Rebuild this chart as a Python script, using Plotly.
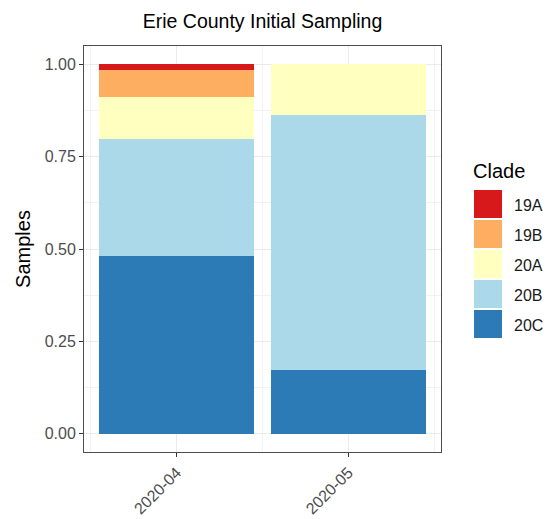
import plotly.graph_objects as go

# data (share of samples per month)
months = ["2020-04", "2020-05"]
clades = ["19A", "19B", "20A", "20B", "20C"]
clade_colors = ["#D7191C", "#FDAE61", "#FFFFBF", "#ABD9E9", "#2C7BB6"]
share = {
    "20C": [0.481, 0.172],
    "20B": [0.318, 0.690],
    "20A": [0.112, 0.138],
    "19B": [0.075, 0.0],
    "19A": [0.014, 0.0],
}

# page body has an 8px margin, so draw the figure 8px smaller and shift everything
OFF = 8
W, H = 554 - OFF, 519 - OFF
# panel box in (reference) pixels
PL, PR, PT, PB = 84, 441, 46, 452

fig = go.Figure()
# stack from bottom: 20C first
for name in reversed(clades):
    col = clade_colors[clades.index(name)]
    fig.add_trace(go.Bar(
        x=months, y=share[name], name=name,
        marker=dict(color=col, line=dict(width=0)),
        width=0.9, showlegend=False,
    ))

# ggplot style legend drawn by hand (big square keys)
def px_x(p):
    return (p - PL) / (PR - PL)

def px_y(p):
    return (PB - p) / (PB - PT)

shapes = []
annots = []
for i, (name, col) in enumerate(zip(clades, clade_colors)):
    top = 190 + 30 * i
    shapes.append(dict(
        type="rect", xref="paper", yref="paper",
        x0=px_x(474), x1=px_x(502), y0=px_y(top + 28), y1=px_y(top),
        fillcolor=col, line=dict(width=0), layer="above",
    ))
    annots.append(dict(
        text=name, xref="paper", yref="paper",
        x=px_x(512), y=px_y(top + 15), xanchor="left", yanchor="middle",
        showarrow=False, font=dict(size=16, color="#1a1a1a"),
    ))
annots.append(dict(
    text="Clade", xref="paper", yref="paper",
    x=px_x(471), y=px_y(171), xanchor="left", yanchor="middle",
    showarrow=False, font=dict(size=20, color="black"),
))

fig.update_layout(
    barmode="stack",
    bargap=0.1,
    width=W, height=H,
    margin=dict(l=PL - OFF, r=554 - PR, t=PT - OFF, b=519 - PB, pad=0),
    paper_bgcolor="white",
    plot_bgcolor="white",
    font=dict(family="Liberation Sans, Arial, sans-serif"),
    title=dict(
        text="Erie County Initial Sampling",
        x=0.5, xref="paper", xanchor="center",
        y=1 - (21 - OFF) / H, yref="container", yanchor="middle",
        font=dict(size=19.5, color="black"),
    ),
    shapes=shapes,
    annotations=annots,
    showlegend=False,
)

fig.update_xaxes(
    type="category",
    range=[-0.54, 1.54],
    showline=True, mirror=True, linecolor="#4d4d4d", linewidth=1,
    ticks="outside", ticklen=4, tickcolor="#333333", tickwidth=1,
    tickangle=-45, tickfont=dict(size=16, color="#4d4d4d"),
    showgrid=True, gridcolor="#EBEBEB", gridwidth=1.2,
    minor=dict(showgrid=True, gridcolor="#F2F2F2", gridwidth=0.6,
               tickvals=[-0.5, 0.5, 1.5]),
    zeroline=False, automargin=False,
)
fig.update_yaxes(
    range=[-0.05, 1.05],
    tickvals=[0, 0.25, 0.5, 0.75, 1.0],
    ticktext=["0.00", "0.25", "0.50", "0.75", "1.00"],
    showline=True, mirror=True, linecolor="#4d4d4d", linewidth=1,
    ticks="outside", ticklen=4, tickcolor="#333333", tickwidth=1,
    tickfont=dict(size=16, color="#4d4d4d"),
    showgrid=True, gridcolor="#EBEBEB", gridwidth=1.2,
    minor=dict(showgrid=True, gridcolor="#F2F2F2", gridwidth=0.6,
               tickvals=[0.125, 0.375, 0.625, 0.875]),
    zeroline=False, automargin=False,
    title=dict(text="Samples", font=dict(size=20, color="black"), standoff=8),
)

fig.write_html("out.html")
